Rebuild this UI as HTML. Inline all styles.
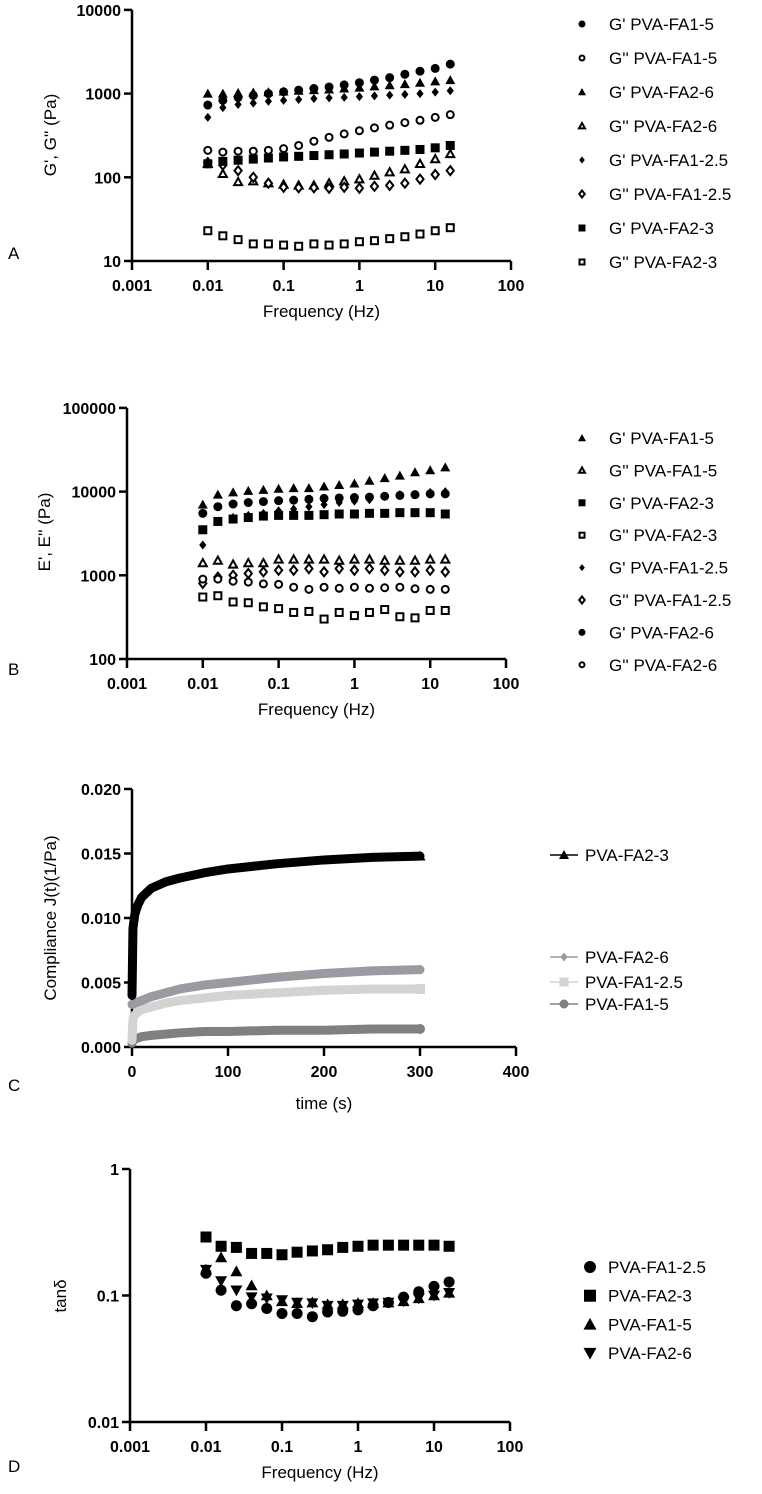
<!DOCTYPE html>
<html><head><meta charset="utf-8">
<style>
body{margin:0;background:#fff;}
svg{display:block;font-family:"Liberation Sans",Arial,sans-serif;}
.tk{font-weight:bold;font-size:16px;}
.ttl{font-size:17px;}
.lg{font-size:17px;}
</style></head>
<body>
<svg id="fig" width="762" height="1494" viewBox="0 0 762 1494"></svg>
<script>
const freqs=[0.01,0.0158,0.0251,0.0398,0.063,0.1,0.158,0.251,0.398,0.63,1,1.58,2.51,3.98,6.3,10,15.8];
const freqTicks=["0.001","0.01","0.1","1","10","100"];
const aTicks=["10","100","1000","10000"];
const aGp15=[730,830,900,950,1000,1050,1100,1150,1200,1270,1350,1450,1550,1700,1850,2000,2250];
const aGpp15=[210,200,205,205,210,220,240,270,300,330,360,390,420,450,480,520,560];
const aGp26=[1000,1000,1020,1030,1040,1060,1080,1100,1120,1150,1180,1220,1260,1300,1350,1400,1450];
const aGpp26=[145,110,88,90,85,82,80,80,85,90,95,105,115,125,145,165,190];
const aGp125=[520,680,740,770,810,830,850,870,890,900,920,940,960,980,1000,1040,1080];
const aGpp125=[150,140,120,100,85,76,75,75,74,76,74,78,80,85,95,108,120];
const aGp23=[145,155,160,165,170,175,178,182,186,190,195,200,205,210,215,225,240];
const aGpp23=[23,20,18,16,16,15.5,15,16,15.5,16,17,17.5,18.5,19.5,21,23,25];
const bTicks=["100","1000","10000","100000"];
const bGp15=[7000,9200,9800,10200,10500,10800,11000,11000,11500,12000,12500,13500,14500,15500,17000,18000,19500];
const bGpp15=[1400,1500,1350,1400,1400,1550,1550,1550,1550,1500,1550,1550,1500,1500,1500,1550,1550];
const bGp23=[3500,4400,4700,4900,5100,5200,5200,5200,5300,5400,5400,5500,5500,5600,5600,5600,5400];
const bGpp23=[550,570,480,470,420,400,360,370,300,360,330,360,390,320,310,380,380];
const bGp125=[2300,4400,4900,5200,5500,5900,6200,6600,7000,7400,7700,8000,8700,9200,9200,9800,10000];
const bGpp125=[800,950,1000,1050,1100,1150,1150,1200,1100,1200,1150,1200,1150,1100,1100,1150,1100];
const bGp26=[5500,6600,7100,7400,7600,7800,7900,8100,8300,8400,8500,8600,8800,9000,9200,9400,9400];
const bGpp26=[900,900,850,830,790,780,720,680,720,700,720,700,710,720,690,680,680];
const cTicksX=["0","100","200","300","400"];
const cTicksY=["0.000","0.005","0.010","0.015","0.020"];
const cTime=[0,1,3,6,10,20,35,50,75,100,150,200,250,300];
const cFA23=[0.004,0.0092,0.0103,0.0110,0.0116,0.0123,0.0128,0.0131,0.0135,0.0138,0.0142,0.0145,0.0147,0.0148];
const cFA26=[0.0033,0.0033,0.0034,0.0035,0.0036,0.0039,0.0042,0.0045,0.0048,0.0050,0.0054,0.0057,0.0059,0.0060];
const cFA125=[0.0005,0.0022,0.0025,0.0027,0.0029,0.0031,0.0034,0.0036,0.0038,0.0040,0.0042,0.0044,0.0045,0.0045];
const cFA15=[0.0003,0.0005,0.0006,0.0007,0.0008,0.0009,0.0010,0.0011,0.0012,0.0012,0.0013,0.0013,0.0014,0.0014];
const dTicks=["0.01","0.1","1"];
const dFA125=[0.15,0.11,0.083,0.086,0.079,0.072,0.072,0.068,0.074,0.075,0.077,0.083,0.088,0.097,0.107,0.118,0.128];
const dFA23=[0.29,0.245,0.24,0.215,0.215,0.21,0.22,0.225,0.23,0.24,0.245,0.25,0.25,0.25,0.25,0.25,0.245];
const dFA15=[0.16,0.2,0.155,0.12,0.1,0.09,0.087,0.088,0.085,0.085,0.087,0.087,0.088,0.09,0.095,0.1,0.105];
const dFA26=[0.16,0.13,0.11,0.097,0.095,0.092,0.088,0.087,0.083,0.083,0.085,0.087,0.088,0.09,0.095,0.1,0.105];

const NS="http://www.w3.org/2000/svg";
const svg=document.getElementById('fig');
function mk(tag,attrs,parent,text){const e=document.createElementNS(NS,tag);for(const k in attrs)e.setAttribute(k,attrs[k]);if(text!==undefined)e.textContent=text;(parent||svg).appendChild(e);return e;}

function marker(g,type,x,y,s,fill){
  s=s||4.5;const f=fill||'#000';
  let e;
  const open=type.startsWith('o');const t=open?type.slice(1):type;
  const st=open?{fill:'#fff',stroke:f,'stroke-width':2}:{fill:f};
  if(t==='circle'){e=mk('circle',Object.assign({cx:x,cy:y,r:open?s-1:s},st),g);}
  else if(t==='square'){const h=open?s-1:s;e=mk('rect',Object.assign({x:x-h,y:y-h,width:2*h,height:2*h},st),g);}
  else if(t==='tri'){const h=open?s-0.5:s+0.5;e=mk('polygon',Object.assign({points:`${x},${y-h} ${x-h},${y+h*0.8} ${x+h},${y+h*0.8}`},st),g);}
  else if(t==='dtri'){const h=s+0.5;e=mk('polygon',Object.assign({points:`${x},${y+h} ${x-h},${y-h*0.8} ${x+h},${y-h*0.8}`},st),g);}
  else if(t==='diamond'){const h=s;e=mk('polygon',Object.assign({points:`${x},${y-h} ${x+h*0.8},${y} ${x},${y+h} ${x-h*0.8},${y}`},st),g);}
  return e;
}

function logPanel(cfg){
  const g=mk('g',{});
  
  
  const xs=v=>cfg.x0+(Math.log10(v)+3)*cfg.dx;
  const ys=v=>cfg.yBase-(Math.log10(v)-cfg.yMinExp)*cfg.dy;
  const yTop=cfg.yBase-(cfg.yTicks.length-1)*cfg.dy;
  const xEnd=cfg.x0+5*cfg.dx;
  const ax=mk('path',{d:`M${cfg.x0},${yTop}V${cfg.yBase}H${xEnd}`,stroke:'#000','stroke-width':2.5,fill:'none'},g);
  
  
  cfg.yTicks.forEach((lab,i)=>{const y=cfg.yBase-i*cfg.dy;
    mk('line',{x1:cfg.x0-8,x2:cfg.x0,y1:y,y2:y,stroke:'#000','stroke-width':2.5},g);
    const t=mk('text',{x:cfg.x0-11,y:y+6,'text-anchor':'end',class:'tk'},g,lab);
    
    });
  freqTicks.forEach((lab,i)=>{const x=cfg.x0+i*cfg.dx;
    mk('line',{x1:x,x2:x,y1:cfg.yBase,y2:cfg.yBase+9,stroke:'#000','stroke-width':2.5},g);
    const t=mk('text',{x:x,y:cfg.yBase+30,'text-anchor':'middle',class:'tk'},g,lab);
    
    });
  const xt=mk('text',{x:cfg.x0+2.5*cfg.dx,y:cfg.yBase+56,'text-anchor':'middle',class:'ttl'},g,'Frequency (Hz)');
  
  
  const yt=mk('text',{transform:`translate(${cfg.ytx},${cfg.yty}) rotate(-90)`,'text-anchor':'middle',class:'ttl'},g,cfg.ytitle);
  
  
  cfg.series.forEach(s=>{
    const sg=mk('g',{},g);
    
    
    s.data.forEach((v,i)=>{marker(sg,s.m,xs(freqs[i]),ys(v),cfg.ms);});
  });
  cfg.series.forEach((s,i)=>{
    const y=cfg.lgY+i*cfg.lgDy;
    const lg=mk('g',{},g);
    
    
    marker(lg,s.m,cfg.lgX,y,cfg.lgMs||3.5);
    mk('text',{x:cfg.lgX+(cfg.lgTx||27),y:y+6,class:'lg'},lg,s.label);
  });
  const L=mk('text',{x:8,y:cfg.letterY,class:'ttl'},g,cfg.letter);
  
  
}

logPanel({name:'panel-a-chart',x0:132,dx:75.8,yBase:261,dy:83.7,yMinExp:1,yTicks:aTicks,ytx:56,yty:135,ytitle:"G', G'' (Pa)",
  letter:'A',letterY:259,lgX:582,lgY:24,lgDy:34,ms:4.5,
  series:[{label:"G' PVA-FA1-5",m:'circle',data:aGp15},{label:"G'' PVA-FA1-5",m:'ocircle',data:aGpp15},
  {label:"G' PVA-FA2-6",m:'tri',data:aGp26},{label:"G'' PVA-FA2-6",m:'otri',data:aGpp26},
  {label:"G' PVA-FA1-2.5",m:'diamond',data:aGp125},{label:"G'' PVA-FA1-2.5",m:'odiamond',data:aGpp125},
  {label:"G' PVA-FA2-3",m:'square',data:aGp23},{label:"G'' PVA-FA2-3",m:'osquare',data:aGpp23}]});

logPanel({name:'panel-b-chart',x0:127,dx:75.8,yBase:659,dy:83.7,yMinExp:2,yTicks:bTicks,ytx:50,yty:532,ytitle:"E', E'' (Pa)",
  letter:'B',letterY:675,lgX:582,lgY:438,lgDy:32.4,ms:4.5,
  series:[{label:"G' PVA-FA1-5",m:'tri',data:bGp15},{label:"G'' PVA-FA1-5",m:'otri',data:bGpp15},
  {label:"G' PVA-FA2-3",m:'square',data:bGp23},{label:"G'' PVA-FA2-3",m:'osquare',data:bGpp23},
  {label:"G' PVA-FA1-2.5",m:'diamond',data:bGp125},{label:"G'' PVA-FA1-2.5",m:'odiamond',data:bGpp125},
  {label:"G' PVA-FA2-6",m:'circle',data:bGp26},{label:"G'' PVA-FA2-6",m:'ocircle',data:bGpp26}]});

logPanel({name:'panel-d-chart',x0:130,dx:76,yBase:1422,dy:126.5,yMinExp:-2,yTicks:dTicks,ytx:66,yty:1296,ytitle:"tanδ",
  letter:'D',letterY:1472,lgX:590,lgTx:18,lgY:1267,lgDy:28.7,ms:5.5,lgMs:6,
  series:[{label:"PVA-FA1-2.5",m:'circle',data:dFA125},{label:"PVA-FA2-3",m:'square',data:dFA23},
  {label:"PVA-FA1-5",m:'tri',data:dFA15},{label:"PVA-FA2-6",m:'dtri',data:dFA26}]});

(function(){
  const g=mk('g',{});
  
  
  const x0=132,yBase=1047,dy=64.5,dxp=0.96;
  const xs=t=>x0+t*dxp;
  const ys=v=>yBase-v/0.005*dy;
  const ax=mk('path',{d:`M${x0},${yBase-4*dy}V${yBase}H${x0+400*dxp}`,stroke:'#000','stroke-width':2.5,fill:'none'},g);
  
  
  cTicksY.forEach((lab,i)=>{const y=yBase-i*dy;
    mk('line',{x1:x0-8,x2:x0,y1:y,y2:y,stroke:'#000','stroke-width':2.5},g);
    const t=mk('text',{x:x0-11,y:y+6,'text-anchor':'end',class:'tk'},g,lab);
    
    });
  cTicksX.forEach((lab,i)=>{const x=x0+i*100*dxp;
    mk('line',{x1:x,x2:x,y1:yBase,y2:yBase+9,stroke:'#000','stroke-width':2.5},g);
    const t=mk('text',{x:x,y:yBase+30,'text-anchor':'middle',class:'tk'},g,lab);
    
    });
  const xt=mk('text',{x:x0+200*dxp,y:1109,'text-anchor':'middle',class:'ttl'},g,'time (s)');
  
  
  const yt=mk('text',{transform:`translate(56,918) rotate(-90)`,'text-anchor':'middle',class:'ttl'},g,'Compliance J(t)(1/Pa)');
  
  
  const series=[{label:'PVA-FA1-5',d:cFA15,c:'#808080',ly:1004,m:'circle'},
    {label:'PVA-FA1-2.5',d:cFA125,c:'#d3d3d3',ly:982,m:'square'},
    {label:'PVA-FA2-6',d:cFA26,c:'#9a9aa0',ly:957,m:'diamond'},
    {label:'PVA-FA2-3',d:cFA23,c:'#000',ly:855,m:'tri'}];
  series.forEach(s=>{
    const sg=mk('g',{},g);
    
    
    const pts=cTime.map((t,i)=>`${xs(t)},${ys(s.d[i])}`).join(' ');
    mk('polyline',{points:pts,fill:'none',stroke:s.c,'stroke-width':9,'stroke-linejoin':'round','stroke-linecap':'round'},sg);
    marker(sg,s.m,xs(cTime[cTime.length-1]),ys(s.d[s.d.length-1]),5,s.c);
    const lg=mk('g',{},g);
    
    
    mk('line',{x1:550,x2:578,y1:s.ly,y2:s.ly,stroke:s.c,'stroke-width':1.5},lg);
    marker(lg,s.m,564,s.ly,4.5,s.c);
    mk('text',{x:585,y:s.ly+6,class:'lg'},lg,s.label);
  });
  const L=mk('text',{x:8,y:1091,class:'ttl'},g,'C');
  
  
})();
</script>
</body></html>
